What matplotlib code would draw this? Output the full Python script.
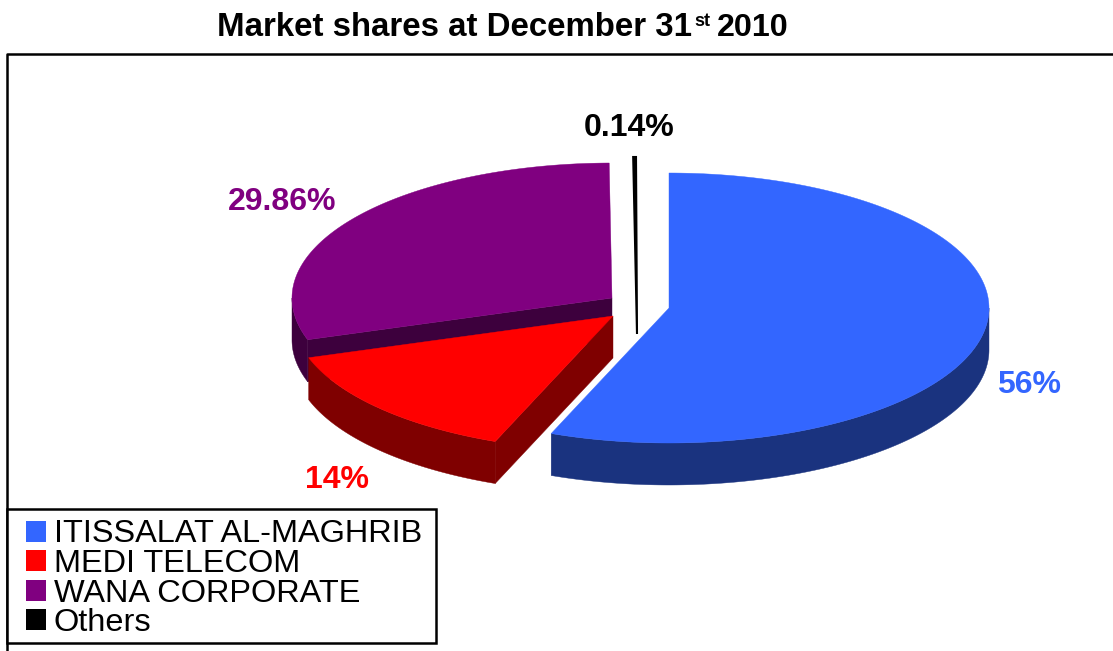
import numpy as np
import matplotlib
matplotlib.use('Agg')
import matplotlib.pyplot as plt
from matplotlib.patches import Patch, Polygon, Rectangle

# data
categories = ['ITISSALAT AL-MAGHRIB', 'MEDI TELECOM', 'WANA CORPORATE', 'Others']
shares = [56, 14, 29.86, 0.14]
share_labels = ['56%', '14%', '29.86%', '0.14%']
top_colors = ['#3366FF', '#FF0000', '#800080', '#000000']
side_colors = ['#1A337F', '#7F0000', '#3D003D', '#000000']

# layout in pixels
W, H = 1113, 651
RX, RY, DEPTH = 320, 135, 42
centers = [(669, 308), (613, 316), (612, 298), (636, 292)]
label_pos = [(1029, 385), (337, 480), (282, 202), (629, 128)]

plt.rcParams['font.family'] = ['Liberation Sans', 'DejaVu Sans']

fig = plt.figure(figsize=(W / 100, H / 100), dpi=100)
ax = fig.add_axes([0, 0, 1, 1])
ax.set_xlim(0, W)
ax.set_ylim(H, 0)
ax.axis('off')


def arc(c, a0, a1, dy=0):
    t = np.radians(np.linspace(a0, a1, 200))
    return np.column_stack([c[0] + RX * np.cos(t), c[1] + RY * np.sin(-t) + dy])


def cut_face(c, a, col):
    e = arc(c, a, a)[0]
    face = [c, e, (e[0], e[1] + DEPTH), (c[0], c[1] + DEPTH)]
    ax.add_patch(Polygon(face, closed=True, fc=col, ec=col, lw=0.3))


# slice angles, clockwise from 12 o'clock
angles = 90 - np.cumsum([0] + shares) * 3.6

# frame
ax.plot([7, 7, W], [H, 54, 54], color='black', lw=1.8, solid_capstyle='butt')

# purple, others, red, blue: back to front
for i in [2, 3, 1, 0]:
    c = centers[i]
    a0, a1 = angles[i], angles[i + 1]
    if i == 3:
        # sliver runs down to the bottom of the pie
        pts = np.vstack([arc(c, a0, a1), [[c[0] + 1, c[1] + DEPTH]]])
        ax.add_patch(Polygon(pts, closed=True, fc='black', ec='black', lw=1.5))
        continue
    # outer wall, only the part facing the viewer
    if i == 2:
        vis_a, vis_b = a0, -180
    else:
        vis_a, vis_b = min(a0, 0), max(a1, -180)
    wall = np.vstack([arc(c, vis_a, vis_b), arc(c, vis_b, vis_a, DEPTH)])
    ax.add_patch(Polygon(wall, closed=True, fc=side_colors[i], ec=side_colors[i], lw=0.3))
    if i == 1:
        cut_face(c, a0, side_colors[i])
    if i == 2:
        cut_face(c, a0, side_colors[i])
    pts = np.vstack([[c], arc(c, a0, a1)])
    ax.add_patch(Polygon(pts, closed=True, fc=top_colors[i], ec=top_colors[i], lw=0.3))

for pos, txt, col in zip(label_pos, share_labels, top_colors):
    ax.text(pos[0], pos[1], txt, color=col, fontsize=23, fontweight='bold', ha='center', va='center')

# title, the "st" is raised
ax.text(217, 28, 'Market shares at December 31', fontsize=23.8, fontweight='bold', ha='left', va='center')
ax.text(694, 22, 'st', fontsize=13, fontweight='bold', ha='left', va='center')
ax.text(789, 28, '2010', fontsize=23.2, fontweight='bold', ha='right', va='center')

# legend box is drawn apart because its padding differs left and top
ax.add_patch(Rectangle((7, 509), 429, 134, fc='white', ec='black', lw=1.8, zorder=4))
handles = [Patch(fc=c, ec=c, lw=0) for c in top_colors]
leg = ax.legend(handles, categories, loc='upper left', bbox_to_anchor=(26 / W, 1 - 519.5 / H),
                bbox_transform=fig.transFigure, fontsize=23.4, frameon=False,
                handlelength=0.615, handleheight=0.615, handletextpad=0.24,
                labelspacing=-0.015, borderpad=0, borderaxespad=0)
leg.set_zorder(5)

fig.savefig('out.png', dpi=100)
